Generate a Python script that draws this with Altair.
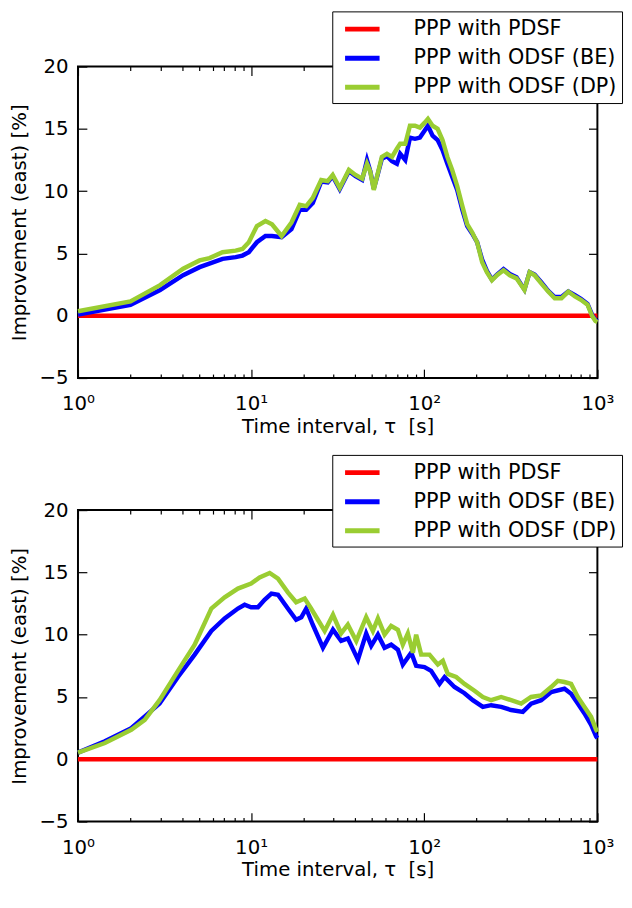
import altair as alt
import pandas as pd

SERIES = ["PPP with PDSF", "PPP with ODSF (BE)", "PPP with ODSF (DP)"]
COLORS = ["#ff0000", "#0000ff", "#9acd32"]

MAJOR_X = [1, 10, 100, 1000]
MINOR_X = [2, 3, 4, 5, 6, 7, 8, 9, 20, 30, 40, 50, 60, 70, 80, 90,
           200, 300, 400, 500, 600, 700, 800, 900]
MAJOR_Y = [-5, 0, 5, 10, 15, 20]

# ---------------- top panel ----------------
top_pdsf_tau = [1, 1000]
top_pdsf_val = [0, 0]

top_be_tau = [1, 2.01, 2.98, 4.05, 5.04, 6.84, 8.14, 8.91, 9.7, 10.8, 12.1, 13.2, 15.0,
              17.1, 19.1, 20.8, 22.7, 25.4, 27.7, 29.6, 32.5, 36.7, 40.1, 43.8, 46.7,
              48.8, 51.1, 53.3, 56.9, 60.9, 65.1, 69.5, 72.6, 77.7, 82.7, 88.4, 94.4,
              100.6, 105, 111.7, 119.5, 127.5, 136, 145, 155, 166, 177, 189, 202, 216,
              230, 246, 263, 287, 312, 341, 379, 406, 434, 474, 520, 567, 620, 679, 742,
              803, 877, 934, 975, 1000]
top_be_val = [0.1, 0.88, 2.07, 3.25, 3.9, 4.57, 4.7, 4.83, 5.1, 5.9, 6.4, 6.4, 6.3,
              6.95, 8.5, 8.5, 9.05, 10.77, 10.7, 11.2, 10.15, 11.6, 11.2, 10.9, 12.5,
              11.6, 10.2, 11.1, 12.6, 12.8, 12.4, 12.2, 13.0, 12.5, 14.3, 14.2, 14.3,
              14.86, 15.25, 14.46, 14.1, 13.3, 12.2, 11.16, 10.1, 8.5, 7.2, 6.6, 5.9, 4.5,
              3.6, 2.9, 3.3, 3.75, 3.35, 3.1, 2.1, 3.5, 3.3, 2.7, 2.0, 1.5, 1.5, 1.95, 1.65,
              1.35, 0.95, 0.05, -0.35, -0.45]

top_dp_tau = [1, 2.01, 2.98, 4.05, 5.04, 5.75, 6.84, 8.14, 8.91, 9.7, 10.8, 12.1, 13.2,
              15.0, 17.1, 19.1, 20.8, 22.7, 25.4, 27.7, 29.6, 32.5, 36.7, 40.1, 43.8,
              46.7, 48.8, 51.1, 53.3, 56.9, 60.9, 65.1, 69.5, 72.6, 77.7, 82.7, 88.4,
              94.4, 100.6, 105, 111.7, 119.5, 127.5, 136, 145, 155, 166, 177, 189, 202,
              216, 230, 246, 263, 287, 312, 341, 379, 406, 434, 474, 520, 567, 620, 679,
              742, 803, 877, 934, 975, 1000]
top_dp_val = [0.36, 1.15, 2.46, 3.78, 4.44, 4.63, 5.1, 5.23, 5.36, 5.9, 7.2, 7.6, 7.34,
              6.4, 7.48, 8.9, 8.8, 9.45, 10.9, 10.8, 11.3, 10.25, 11.7, 11.3, 11.0,
              12.2, 11.56, 10.1, 11.16, 12.75, 13.0, 12.75, 13.4, 13.8, 13.8, 15.25, 15.25,
              15.1, 15.5, 15.8, 15.25, 15.0, 14.1, 12.75, 11.7, 10.4, 8.8, 7.35, 6.7, 5.9,
              4.3, 3.5, 2.85, 3.25, 3.65, 3.25, 3.0, 2.07, 3.5, 3.25, 2.6, 1.94, 1.4, 1.4, 1.94,
              1.55, 1.28, 0.88, -0.04, -0.43, -0.5]

# ---------------- bottom panel ----------------
bot_pdsf_tau = [1, 1000]
bot_pdsf_val = [0, 0]

bot_be_tau = [1, 1.43, 2.03, 2.96, 3.78, 4.72, 5.89, 7.03, 8.39, 9.17, 10.0, 10.95, 11.96,
              13.1, 14.3, 16.3, 18.2, 19.5, 20.8, 22.7, 26.0, 29.7, 33.1, 36.2, 41.4, 46.2,
              49.4, 54.0, 59.0, 64.4, 70.4, 75.2, 84.1, 89.8, 100.3, 109.6, 122.5, 131,
              149.5, 170.8, 190.8, 217.9, 243.5, 278.1, 317.7, 371, 414.4, 473.4, 540.7,
              645.6, 705.3, 770.6, 842, 920, 983, 1000]
bot_be_val = [0.53, 1.45, 2.5, 4.47, 6.6, 8.4, 10.3, 11.3, 12.1, 12.4, 12.2, 12.2, 12.8,
              13.3, 13.2, 12.1, 11.2, 11.4, 12.1, 10.8, 8.95, 10.4, 9.5, 9.7, 8.0, 10.1,
              9.1, 10.0, 8.95, 9.2, 8.8, 7.6, 8.55, 7.5, 7.4, 7.1, 6.05, 6.6,
              5.8, 5.3, 4.74, 4.2, 4.34, 4.2, 3.95, 3.8, 4.47, 4.74, 5.4,
              5.66, 5.26, 4.47, 3.68, 2.76, 1.84, 1.7]

bot_dp_tau = [1, 1.43, 2.03, 2.43, 2.96, 3.78, 4.72, 5.89, 7.03, 8.39, 10.0, 11.2, 12.8,
              14.3, 16.3, 18.2, 20.4, 22.2, 24.3, 26.6, 29.7, 33.1, 36.2, 40.5, 46.2, 50.5,
              54.0, 59.0, 64.4, 70.4, 75.2, 80.4, 86.0, 89.8, 96.0, 107.2, 119.8, 128.1,
              136.8, 152.9, 170.8, 195.1, 217.9, 243.5, 278.1, 317.7, 362.8, 414.4, 473.4,
              540.7, 590.8, 645.6, 705.3, 770.6, 842, 920, 983, 1000]
bot_dp_val = [0.53, 1.3, 2.37, 3.16, 4.74, 7.1, 9.2, 12.1, 13.0, 13.7, 14.1, 14.6, 14.95,
              14.5, 13.4, 12.6, 12.9, 12.1, 11.2, 10.3, 11.6, 10.1, 10.8, 9.5, 11.4, 10.3,
              11.3, 10.0, 10.7, 10.4, 9.2, 10.1, 8.55, 10.0, 8.4, 8.4, 7.6, 7.9,
              6.85, 6.6, 6.05, 5.5, 5.0, 4.74, 5.0, 4.74, 4.47, 5.0, 5.13,
              5.8, 6.3, 6.2, 6.05, 5.0, 4.2, 3.4, 2.37, 2.2]

FONT = "DejaVu Sans"


def frame(tau, val, name):
    return pd.DataFrame({"tau": tau, "value": val, "series": name})


def make_panel(red, blue, green):
    xs = alt.Scale(type="log", domain=[1, 1000], nice=False)
    ys = alt.Scale(domain=[-5, 20], nice=False, zero=False)
    color = alt.Color(
        "series:N",
        scale=alt.Scale(domain=SERIES, range=COLORS),
        legend=alt.Legend(
            title=None, orient="none", legendX=258, legendY=-56,
            symbolType="M-1.75,0H1.75", symbolStrokeWidth=5, symbolSize=400,
            labelFontSize=21, labelFont=FONT, labelColor="black",
            strokeColor="black", fillColor="white", padding=5.5,
            rowPadding=6.5, labelOffset=39.5, symbolOffset=12.5,
            direction="vertical", labelLimit=400,
        ),
    )

    ax_bottom = alt.Axis(values=MAJOR_X, tickSize=9, offset=-9, labelPadding=16,
                         labelFlush=False,
                         labelExpr="'10' + (datum.value == 1 ? '⁰' : datum.value == 10 ? '¹' : datum.value == 100 ? '²' : '³')",
                         title="Time interval, τ\u00a0 [s]", titlePadding=3, orient="bottom")
    ax_bottom_minor = alt.Axis(values=MINOR_X, tickSize=4, offset=-4, labels=False,
                               title=None, orient="bottom")
    ax_top = alt.Axis(values=MAJOR_X, tickSize=9, offset=-9, labels=False,
                      title=None, orient="top")
    ax_top_minor = alt.Axis(values=MINOR_X, tickSize=4, offset=-4, labels=False,
                            title=None, orient="top")
    ax_left = alt.Axis(values=MAJOR_Y, tickSize=9, offset=-9, labelPadding=10,
                       labelFlush=False,
                       title="Improvement (east) [%]", titlePadding=10, orient="left")
    ax_right = alt.Axis(values=MAJOR_Y, tickSize=9, offset=-9, labels=False,
                        title=None, orient="right")

    ghost = alt.Chart(red).mark_line(strokeOpacity=0).encode(
        x=alt.X("tau:Q", scale=xs, axis=ax_top_minor),
        y=alt.Y("value:Q", scale=ys, axis=None),
    )
    l_red = alt.Chart(red).mark_line(strokeWidth=4.5).encode(
        x=alt.X("tau:Q", scale=xs, axis=ax_bottom),
        y=alt.Y("value:Q", scale=ys, axis=ax_left),
        color=color,
    )
    l_blue = alt.Chart(blue).mark_line(strokeWidth=4.5).encode(
        x=alt.X("tau:Q", scale=xs, axis=ax_bottom_minor),
        y=alt.Y("value:Q", scale=ys, axis=ax_right),
        color=color,
    )
    l_green = alt.Chart(green).mark_line(strokeWidth=4.5).encode(
        x=alt.X("tau:Q", scale=xs, axis=ax_top),
        y=alt.Y("value:Q", scale=ys, axis=None),
        color=color,
    )
    return alt.layer(ghost, l_red, l_blue, l_green).resolve_axis(
        x="independent", y="independent"
    ).properties(width=527, height=316)


top = make_panel(frame(top_pdsf_tau, top_pdsf_val, SERIES[0]),
                 frame(top_be_tau, top_be_val, SERIES[1]),
                 frame(top_dp_tau, top_dp_val, SERIES[2]))
bottom = make_panel(frame(bot_pdsf_tau, bot_pdsf_val, SERIES[0]),
                    frame(bot_be_tau, bot_be_val, SERIES[1]),
                    frame(bot_dp_tau, bot_dp_val, SERIES[2]))

chart = alt.vconcat(top, bottom, spacing=16).resolve_scale(color="independent").properties(
    padding={"left": 0, "top": -5, "right": 0, "bottom": 2},
    background="white",
).configure_view(
    stroke="black", strokeWidth=2
).configure_axis(
    grid=False, domain=False, labelFont=FONT, labelFontSize=20, labelColor="black",
    tickColor="black", tickWidth=1.2, titleFont=FONT, titleFontSize=20,
    titleFontWeight="normal", titleColor="black"
)

chart.save("out.html", embed_options={"renderer": "svg", "actions": False})
